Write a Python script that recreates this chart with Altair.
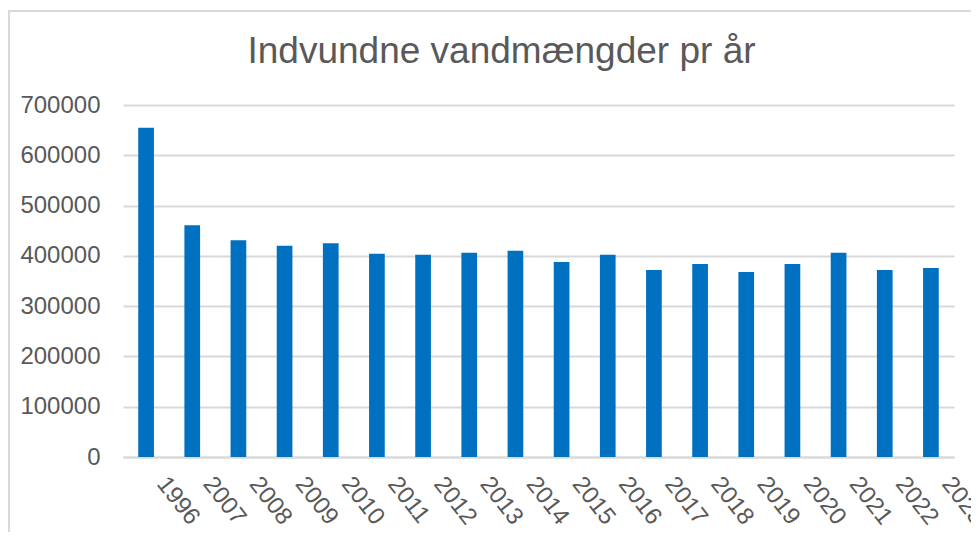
import altair as alt
import pandas as pd

years = ["1996", "2007", "2008", "2009", "2010", "2011", "2012", "2013", "2014",
         "2015", "2016", "2017", "2018", "2019", "2020", "2021", "2022", "2023"]
volumes = [655000, 461000, 431000, 420000, 425000, 404000, 402000, 406000, 410000,
           388000, 402000, 372000, 384000, 368000, 384000, 406000, 372000, 376000]
y_ticks = [0, 100000, 200000, 300000, 400000, 500000, 600000, 700000]

df = pd.DataFrame({"year": years, "volume": volumes})

FONT = "Liberation Sans"
TXT = "#595959"
GRID = "#d9d9d9"

W, H = 831, 352

bars = alt.Chart(df).mark_bar(color="#0070C0").encode(
    x=alt.X("year:N", sort=years, title=None,
            scale=alt.Scale(paddingInner=0.66, paddingOuter=0.33),
            axis=alt.Axis(labelAngle=52, labelAlign="left", labelBaseline="top",
                          labelPadding=15, labelOffset=25, ticks=False,
                          domain=True, domainColor=GRID, domainWidth=2,
                          labelFont=FONT, labelFontSize=24, labelColor=TXT,
                          labelOverlap=False)),
    y=alt.Y("volume:Q", title=None,
            scale=alt.Scale(domain=[0, 700000], nice=False),
            axis=alt.Axis(values=y_ticks, format="d", ticks=False, domain=False,
                          grid=True, gridColor=GRID, gridWidth=2,
                          labelFont=FONT, labelFontSize=24, labelColor=TXT,
                          labelPadding=23)),
)

frame = alt.Chart(df).mark_rect(fill=None, stroke=GRID, strokeWidth=2).encode(
    x=alt.value(-114), x2=alt.value(W + 60), y=alt.value(-94), y2=alt.value(H + 120)
)

chart = alt.layer(frame, bars).properties(
    width=W, height=H,
    title=alt.TitleParams("Indvundne vandmængder pr år", font=FONT, fontSize=37,
                          fontWeight="normal", color=TXT, anchor="middle",
                          baseline="alphabetic", offset=-90, dx=-37),
    autosize=alt.AutoSizeParams(type="none"),
    padding={"left": 115, "top": 97, "right": 17, "bottom": 75},
).configure_view(stroke=None)

chart.save("out.html", embed_options={"renderer": "svg", "actions": False})
